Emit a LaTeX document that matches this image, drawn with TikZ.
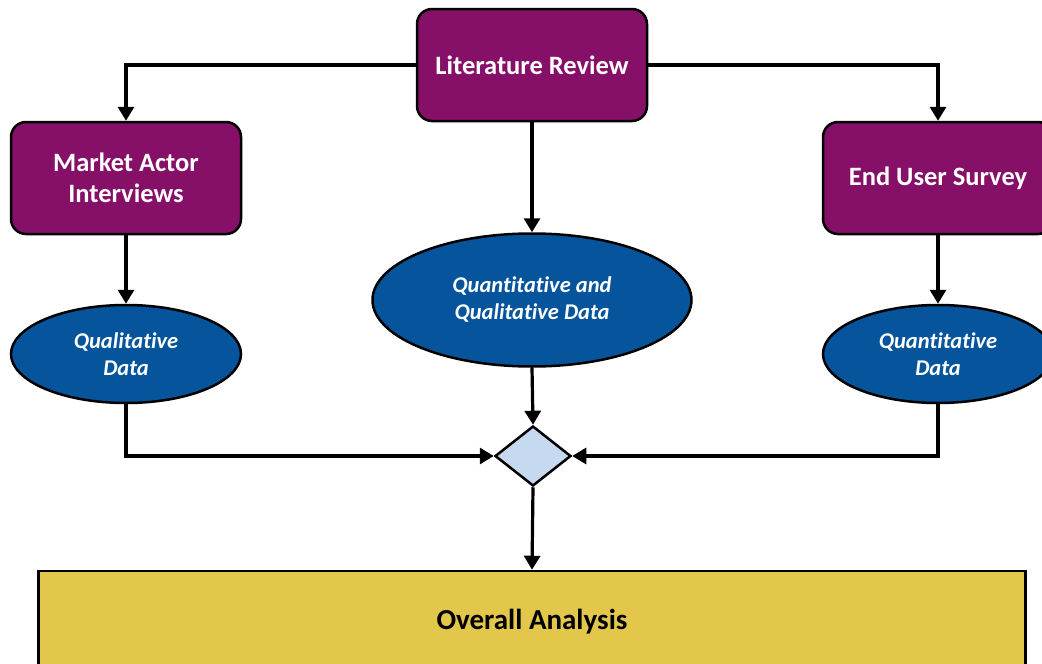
\documentclass[tikz,border=0pt]{standalone}
\usepackage{fontspec}
\setmainfont[RawFeature=-liga]{Carlito}
\usetikzlibrary{shapes.geometric,arrows.meta}
\definecolor{plum}{HTML}{861068}
\definecolor{deepblue}{HTML}{06559C}
\definecolor{paleblue}{HTML}{C6D9F0}
\definecolor{mustard}{HTML}{E3C74B}
\tikzset{
  srcbox/.style={draw=black, line width=2.5pt, fill=plum, rounded corners=15pt,
    minimum width=230pt, minimum height=112pt, align=center, text=white,
    font=\bfseries\fontsize{26.5}{31}\selectfont},
  databox/.style={draw=black, line width=2.5pt, fill=deepblue, ellipse, inner sep=0pt,
    align=center, text=white, font=\bfseries\itshape\fontsize{22.5}{27}\selectfont},
  mergebox/.style={draw=black, line width=2.5pt, fill=paleblue, diamond, inner sep=0pt,
    minimum width=76pt, minimum height=60pt},
  finalbox/.style={draw=black, line width=2.5pt, fill=mustard, minimum width=987pt,
    minimum height=102pt, font=\bfseries\fontsize{29}{32}\selectfont},
  arr/.style={line width=3.2pt, -{Triangle[length=14pt,width=16pt]}}
}
\begin{document}
\begin{tikzpicture}[x=1pt,y=-1pt]
\useasboundingbox (0,0) rectangle (1042,664);
\clip (0,0) rectangle (1042,664);
\fill[white] (0,0) rectangle (1042,664);

% sources
\node[srcbox] (lit) at (532,65) {Literature Review};
\node[srcbox] (mai) at (126,178) {Market Actor\\Interviews};
\node[srcbox] (eus) at (938,178) {End User Survey};

% data kinds
\node[databox, minimum width=230pt, minimum height=98pt] (ql) at (126,354) {Qualitative\\Data};
\node[databox, minimum width=319pt, minimum height=133pt] (qq) at (532,300) {Quantitative and\\Qualitative Data};
\node[databox, minimum width=230pt, minimum height=98pt] (qn) at (938,354) {Quantitative\\Data};

% merge and result
\node[mergebox] (m) at (533,456) {};
\node[finalbox] (oa) at (532,622) {Overall Analysis};

% connectors
\draw[arr] (lit.west) -| (mai.north);
\draw[arr] (lit.east) -| (eus.north);
\draw[arr] (lit.south) -- (qq.north);
\draw[arr] (mai.south) -- (ql.north);
\draw[arr] (eus.south) -- (qn.north);
\draw[arr] (qq.south) -- (m.north);
\draw[arr] (ql.south) |- (m.west);
\draw[arr] (qn.south) |- (m.east);
\draw[arr] (m.south) -- (oa.north);
\end{tikzpicture}
\end{document}
